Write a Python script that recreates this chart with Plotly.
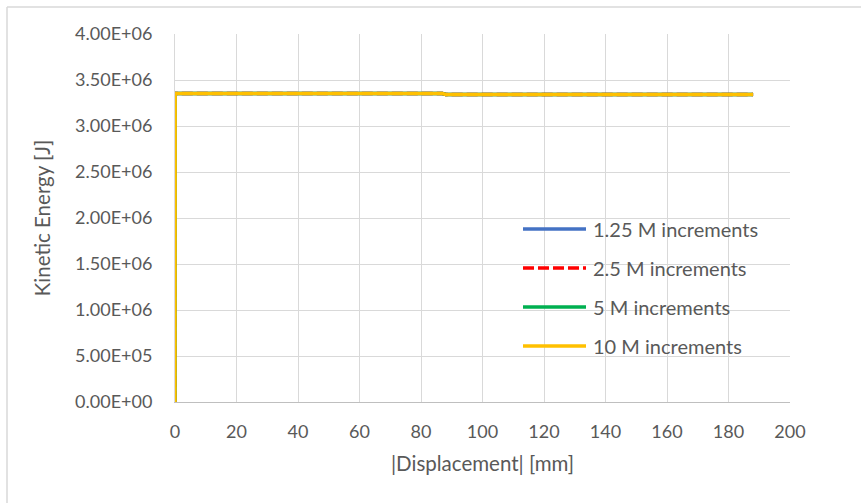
import plotly.graph_objects as go

# Data
displacement = [0, 0.05, 10, 30, 50, 70, 87, 88, 100, 120, 140, 160, 180, 188]
ke_125 = [0, 3.352e6, 3.352e6, 3.352e6, 3.352e6, 3.352e6, 3.352e6, 3.343e6, 3.343e6, 3.343e6, 3.343e6, 3.343e6, 3.343e6, 3.343e6]
ke_25 = [0, 3.352e6, 3.352e6, 3.352e6, 3.352e6, 3.352e6, 3.352e6, 3.343e6, 3.343e6, 3.343e6, 3.343e6, 3.343e6, 3.343e6, 3.343e6]
ke_5 = [0, 3.352e6, 3.352e6, 3.352e6, 3.352e6, 3.352e6, 3.352e6, 3.343e6, 3.343e6, 3.343e6, 3.343e6, 3.343e6, 3.343e6, 3.343e6]
ke_10 = [0, 3.352e6, 3.352e6, 3.352e6, 3.352e6, 3.352e6, 3.352e6, 3.343e6, 3.343e6, 3.343e6, 3.343e6, 3.343e6, 3.343e6, 3.343e6]

series_names = ["1.25 M increments", "2.5 M increments", "5 M increments", "10 M increments"]
series_values = [ke_125, ke_25, ke_5, ke_10]
series_colors = ["#4472C4", "#FF0000", "#00B050", "#FFC000"]
series_dash = ["solid", "11px,4px", "solid", "solid"]

x_ticks = [0, 20, 40, 60, 80, 100, 120, 140, 160, 180, 200]
y_ticks = [0, 5e5, 1e6, 1.5e6, 2e6, 2.5e6, 3e6, 3.5e6, 4e6]
y_ticktext = ["0.00E+00", "5.00E+05", "1.00E+06", "1.50E+06", "2.00E+06",
              "2.50E+06", "3.00E+06", "3.50E+06", "4.00E+06"]

FONT = "Lato"
GRAY = "#595959"

# plot-area geometry (pixels) used to place the in-plot legend
PL, PT, PW, PH = 175, 34, 615, 368

fig = go.Figure()
for name, vals, col, dash in zip(series_names, series_values, series_colors, series_dash):
    fig.add_trace(go.Scatter(
        x=displacement, y=vals, mode="lines", name=name,
        line=dict(color=col, width=3.5, dash=dash, simplify=False),
        showlegend=False,
    ))

fig.update_layout(
    width=861, height=503,
    margin=dict(l=PL, r=861 - PL - PW, t=PT, b=503 - PT - PH),
    paper_bgcolor="white", plot_bgcolor="white",
    font=dict(family=FONT, color=GRAY, size=16),
    showlegend=False,
    xaxis=dict(
        range=[0, 200], tickvals=x_ticks, showgrid=True, gridcolor="#D9D9D9", gridwidth=1,
        zeroline=False, showline=True, linecolor="#BFBFBF", linewidth=1,
        ticks="", ticklabelstandoff=13, tickfont=dict(size=18, color=GRAY),
        title=dict(text="|Displacement| [mm]", font=dict(size=20.5, color=GRAY), standoff=16),
    ),
    yaxis=dict(
        range=[0, 4e6], tickvals=y_ticks, ticktext=y_ticktext,
        showgrid=True, gridcolor="#D9D9D9", gridwidth=1,
        zeroline=False, showline=True, linecolor="#D9D9D9", linewidth=1,
        ticks="", ticklabelstandoff=18, tickfont=dict(size=18, color=GRAY),
        title=dict(text="Kinetic Energy [J]", font=dict(size=20.5, color=GRAY), standoff=18),
    ),
)

# In-plot legend (Excel style): line samples + labels
leg_y_px = [229, 268, 307, 346]
for name, col, dash, ypx in zip(series_names, series_colors, series_dash, leg_y_px):
    yp = (PT + PH - ypx) / PH
    fig.add_shape(type="line", xref="paper", yref="paper",
                  x0=(523 - PL) / PW, x1=(586 - PL) / PW, y0=yp, y1=yp,
                  line=dict(color=col, width=3.5, dash=dash))
    fig.add_annotation(xref="paper", yref="paper", x=(591 - PL) / PW, y=yp,
                       xanchor="left", yanchor="middle", showarrow=False,
                       text=name, font=dict(size=20, color=GRAY, family=FONT))

# Chart-area border (Excel style): only top and left edges are inside the picture
bx0 = (7 - PL) / PW
by1 = (PT + PH - 7) / PH
fig.add_shape(type="line", xref="paper", yref="paper", x0=bx0, x1=1.4, y0=by1, y1=by1,
              line=dict(color="#D9D9D9", width=1.5), layer="below")
fig.add_shape(type="line", xref="paper", yref="paper", x0=bx0, x1=bx0, y0=-0.5, y1=by1,
              line=dict(color="#D9D9D9", width=1.5), layer="below")

fig.write_html("out.html")
